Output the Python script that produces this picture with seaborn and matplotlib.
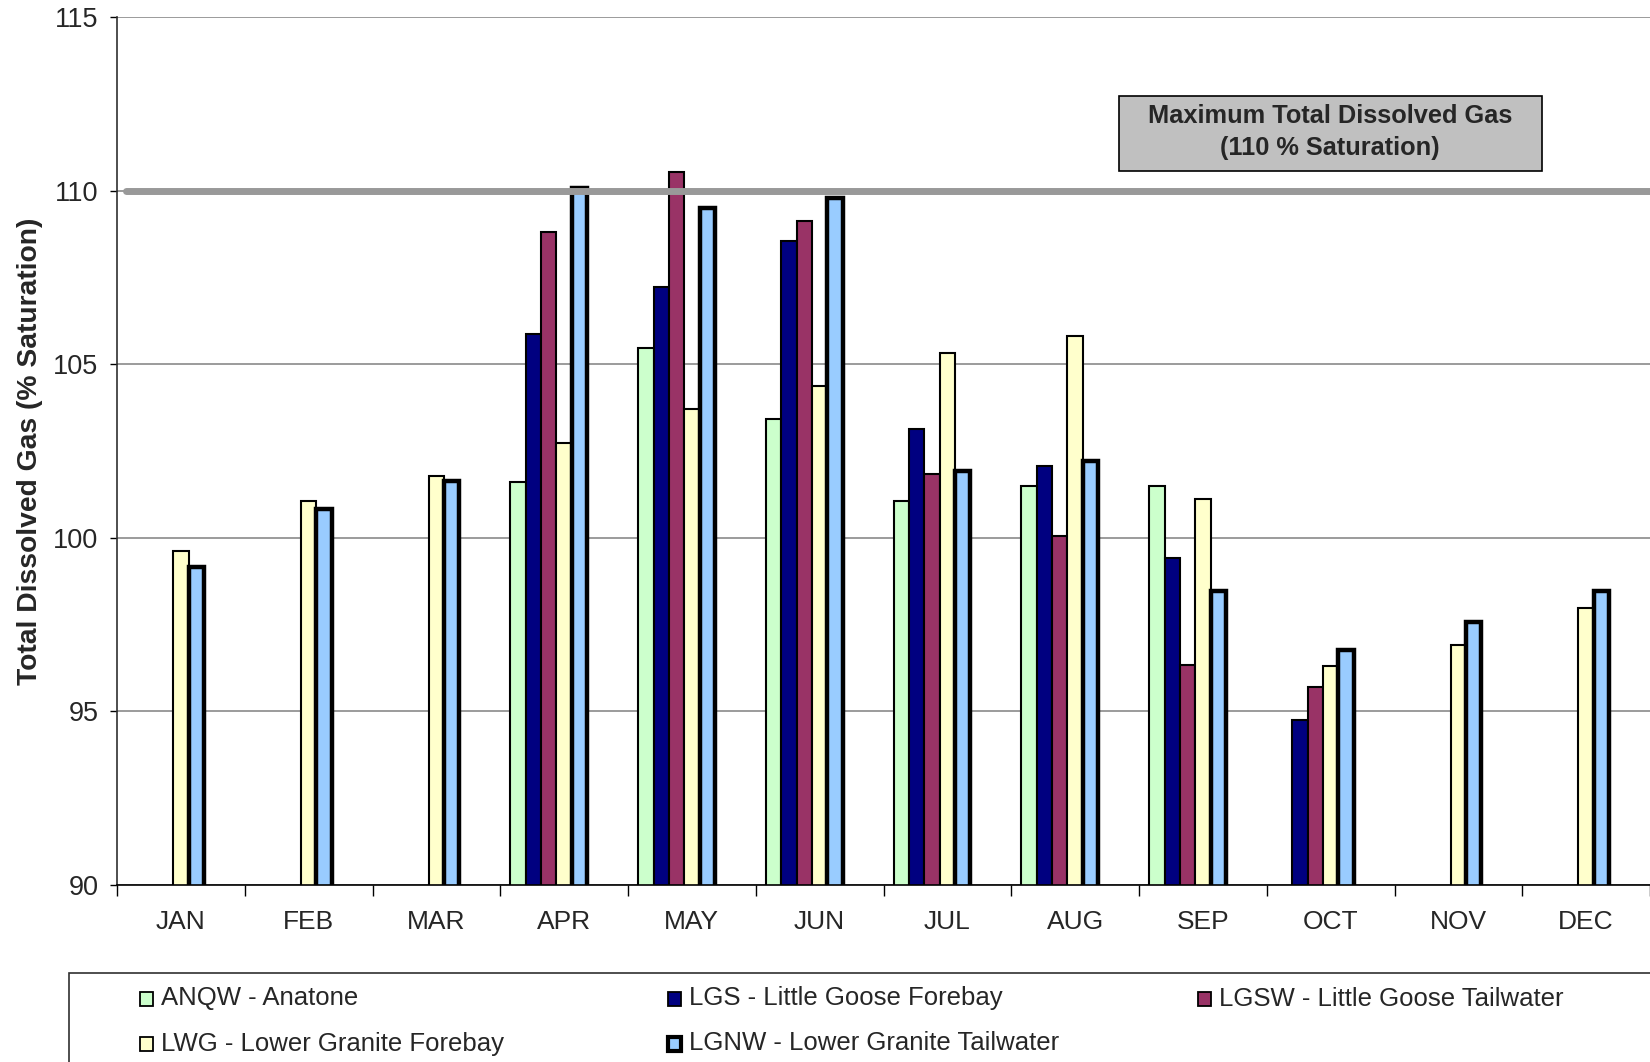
import numpy as np
import pandas as pd
import matplotlib
matplotlib.use("Agg")
import matplotlib.pyplot as plt
from matplotlib.patches import Rectangle
from matplotlib.colors import to_rgba
import seaborn as sns

# monthly max total dissolved gas (% saturation)
months = ["JAN", "FEB", "MAR", "APR", "MAY", "JUN",
          "JUL", "AUG", "SEP", "OCT", "NOV", "DEC"]
sites = ["ANQW - Anatone", "LGS - Little Goose Forebay", "LGSW - Little Goose Tailwater",
         "LWG - Lower Granite Forebay", "LGNW - Lower Granite Tailwater"]
colors = ["#CCFFCC", "#000080", "#993366", "#FFFFCC", "#99CCFF"]

anqw = [None, None, None, 101.6, 105.47, 103.41, 101.05, 101.49, 101.49, None, None, None]
lgs = [None, None, None, 105.88, 107.22, 108.54, 103.13, 102.08, 99.42, 94.74, None, None]
lgsw = [None, None, None, 108.82, 110.54, 109.12, 101.84, 100.05, 96.33, 95.71, None, None]
lwg = [99.62, 101.06, 101.79, 102.73, 103.72, 104.36, 105.32, 105.81, 101.13, 96.30, 96.90, 97.98]
lgnw = [99.15, 100.82, 101.64, 110.08, 109.5, 109.8, 101.91, 102.2, 98.47, 96.78, 97.57, 98.47]

limit = 110

rows = []
for site, vals in zip(sites, [anqw, lgs, lgsw, lwg, lgnw]):
    for m, v in zip(months, vals):
        if v is not None:
            rows.append({"month": m, "site": site, "tdg": v})
df = pd.DataFrame(rows)

sns.set_theme(style="white")
plt.rcParams["font.family"] = ["Liberation Sans", "DejaVu Sans"]

W, H = 1650, 1062
fig = plt.figure(figsize=(W / 100, H / 100), dpi=100)
ax = fig.add_axes([117 / W, 1 - 885 / H, 1 - 117 / W, (885 - 17) / H])

# two empty hue slots so the groups sit like the original Excel clusters
pads = ["_pad1", "_pad2"]
palette = dict(zip(sites, colors))
palette.update({p: "white" for p in pads})
sns.barplot(data=df, x="month", y="tdg", hue="site", order=months,
            hue_order=sites + pads, palette=palette, saturation=1,
            width=0.84, edgecolor="black", linewidth=1.5,
            errorbar=None, legend=False, ax=ax)

lgnw_rgba = to_rgba(colors[4])
for p in ax.patches:
    if np.allclose(p.get_facecolor(), lgnw_rgba):
        p.set_linewidth(3.2)

ax.set_ylim(90, 115)
ax.set_yticks(np.arange(90, 116, 5))
ax.yaxis.grid(True, color="#808080", linewidth=1.1)
ax.set_axisbelow(True)

ax.axhline(limit, xmin=0.006, xmax=1, color="#999999", linewidth=5,
           solid_capstyle="round", zorder=5)

ax.set_xlim(-0.5, 11.5)
ax.set_xticks(np.arange(-0.5, 12, 1))
ax.set_xticklabels([])
ax.set_xticks(np.arange(12), minor=True)
ax.set_xticklabels(months, minor=True)
ax.tick_params(axis="x", which="major", length=8, width=1, color="black", direction="out", bottom=True)
ax.tick_params(axis="x", which="minor", length=0, pad=18, labelsize=19)
ax.tick_params(axis="y", length=5, width=1, color="black", direction="out", left=True,
               pad=8.5, labelsize=19.5)
ax.set_xlabel("")
ax.set_ylabel("Total Dissolved Gas (% Saturation)", fontsize=20.3, fontweight="bold")
ax.yaxis.set_label_coords(-0.048, 0.5)

for s in ["top", "right"]:
    ax.spines[s].set_visible(False)
ax.spines["left"].set_color("#303030")
ax.spines["bottom"].set_color("black")
ax.spines["left"].set_linewidth(1.2)
ax.spines["bottom"].set_linewidth(1.2)

# limit label box
fig.patches.append(Rectangle((1119 / W, 1 - 170.5 / H), (1541.5 - 1119) / W, 74.7 / H,
                             transform=fig.transFigure, facecolor="#C0C0C0",
                             edgecolor="black", linewidth=1.2, zorder=6))
fig.text(1330 / W, 1 - 132 / H, "Maximum Total Dissolved Gas\n(110 % Saturation)",
         ha="center", va="center", fontsize=18.3, fontweight="bold",
         linespacing=1.45, zorder=7)

# legend box below the plot
fig.patches.append(Rectangle((68.5 / W, -0.05), 1.0, 0.05 + 1 - 973 / H,
                             transform=fig.transFigure, facecolor="white",
                             edgecolor="#303030", linewidth=1.2))
col_x = [140, 668, 1198]
row_y = [998.5, 1043.5]
for i, (site, c) in enumerate(zip(sites, colors)):
    x0 = col_x[i % 3]
    y0 = row_y[i // 3]
    lw = 3.0 if i == 4 else 1.3
    fig.patches.append(Rectangle((x0 / W, 1 - (y0 + 7) / H), 13 / W, 14 / H,
                                 transform=fig.transFigure, facecolor=c,
                                 edgecolor="black", linewidth=lw))
    fig.text((x0 + 21) / W, 1 - y0 / H, site, ha="left", va="center", fontsize=18.5)

fig.savefig("out.png", dpi=100)
